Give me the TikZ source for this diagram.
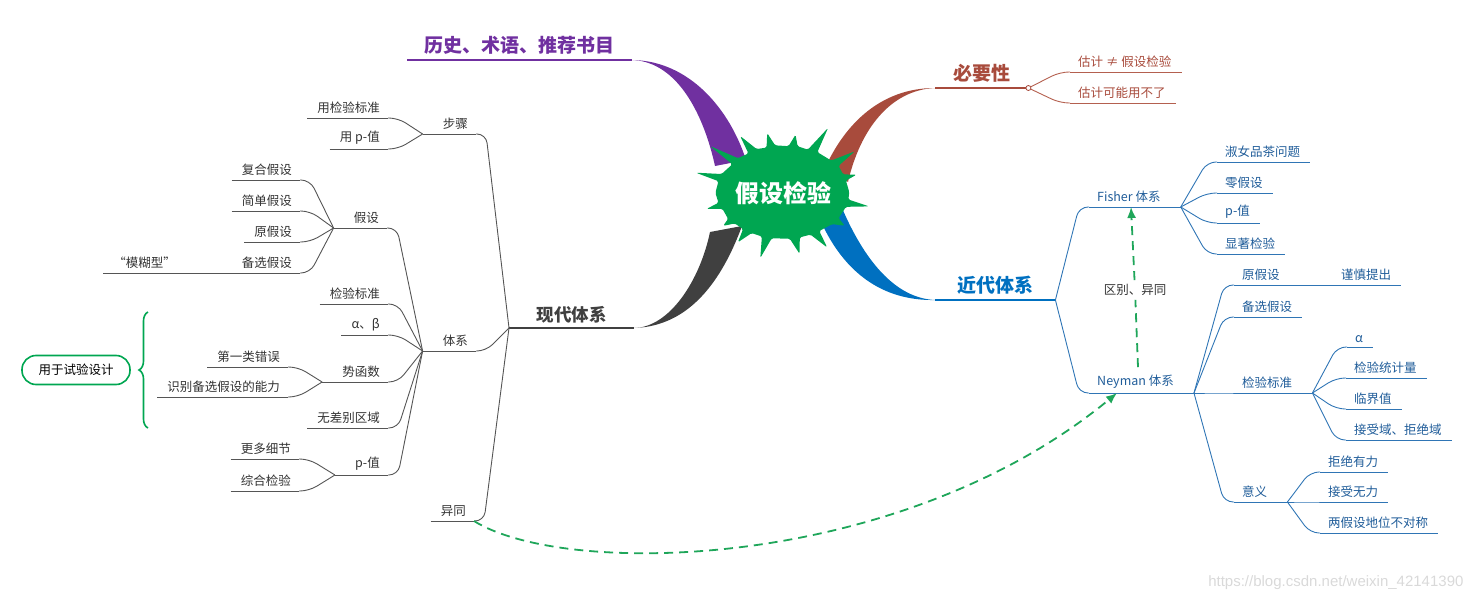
\documentclass[tikz,border=0pt]{standalone}
\usepackage{fontspec}
\setmainfont{Noto Sans CJK SC}
\newfontfamily\wmfont{Liberation Sans}
\usetikzlibrary{positioning}
\usetikzlibrary{arrows.meta}
\usetikzlibrary{decorations.pathreplacing}
\definecolor{ppl}{HTML}{7030A0}
\definecolor{rbr}{HTML}{A84B3C}
\definecolor{rline}{HTML}{B4604F}
\definecolor{bblue}{HTML}{0070C0}
\definecolor{bline}{HTML}{2F75B5}
\definecolor{btxt}{HTML}{1F5C99}
\definecolor{dgray}{HTML}{404040}
\definecolor{lline}{HTML}{555555}
\definecolor{ltxt}{HTML}{333333}
\definecolor{zgreen}{HTML}{00A651}
\definecolor{dgreen}{HTML}{1FA65A}
\tikzset{
tbase/.style={inner xsep=0pt, inner ysep=4pt, font=\fontsize{12.5}{14}\selectfont},
tpad/.style 2 args={execute at begin node={\hspace*{#1}},
  execute at end node={\hspace*{#2}}},
lf/.style={tbase, anchor=south east, text=ltxt, tpad={10pt}{8pt}}, % left leaves
lp/.style={tbase, anchor=south east, text=ltxt, tpad={20pt}{8pt}}, % left parents
rf/.style={tbase, anchor=south west, text=btxt, tpad={8pt}{10pt}}, % right leaves
rp/.style={tbase, anchor=south west, text=btxt, tpad={8pt}{20pt}}, % right parents
main/.style={anchor=south west, inner xsep=0pt, inner ysep=5pt,
  font=\bfseries\fontsize{19}{22}\selectfont},
gl/.style={draw=lline, line width=0.9pt, rounded corners=9pt},
bl/.style={draw=bline, line width=0.9pt, rounded corners=9pt},
rl/.style={draw=rline, line width=0.9pt, rounded corners=9pt},
gd/.style={draw=dgreen, line width=1.8pt, dash pattern=on 9pt off 6pt,
  -{Latex[length=11pt,width=9pt]}}
}

\begin{document}
\begin{tikzpicture}[x=1pt,y=1pt]
\useasboundingbox (0,0) rectangle (1475,-602);

% main branches
\node[main, text=ppl, minimum width=225pt] (ls) at (407,-60) {历史、术语、推荐书目};
\node[main, text=rbr, minimum width=93pt] (by) at (935,-88) {必要性};
\node[main, text=bblue, minimum width=120pt] (jd) at (935,-300) {近代体系};
\node[main, text=dgray, minimum width=125pt, font=\bfseries\fontsize{17.5}{20}\selectfont] (xd) at (509,-328) {现代体系};
\draw[ppl, line width=2.5pt] (ls.south west) -- (ls.south east);
\draw[rbr, line width=2pt] (by.south west) -- (by.south east);
\draw[bblue, line width=2pt] (jd.south west) -- (jd.south east);
\draw[dgray, line width=2pt] (xd.south west) -- (xd.south east);

\fill[ppl] (ls.south east) .. controls (690,-61) and (730,-110) .. (746,-160)
  -- (715,-166) .. controls (705,-120) and (680,-62) .. (ls.south east) -- cycle;
\fill[rbr] (by.south west) .. controls (880,-88) and (845,-125) .. (826,-166)
  -- (848,-182) .. controls (860,-130) and (890,-90) .. (by.south west) -- cycle;
\fill[bblue] (jd.south west) .. controls (890,-298) and (860,-250) .. (842,-208)
  -- (824,-228) .. controls (845,-270) and (880,-301) .. (jd.south west) -- cycle;
\fill[dgray] (xd.south east) .. controls (690,-326) and (722,-280) .. (742,-226)
  -- (710,-232) .. controls (700,-280) and (670,-327) .. (xd.south east) -- cycle;

% splash
\begin{scope}[shift={(783,-192)}, xscale=1.38]
\fill[zgreen, rounded corners=1.5pt] (0:48) \foreach \a/\r in {14/47,18/56,22/47,33/48,38/66,42/47,58/47,
  63/72,67/46,77/47,81/58,85/46,97/47,101/60,105/46,114/47,119/64,123/46,134/47,139/70,143/46,
  158/48,163/66,167/48,181/49,193/48,197/58,201/47,214/48,218/55,222/47,232/47,237/60,
  241/47,251/47,256/68,260/47,276/47,281/63,285/47,295/47,300/64,304/47,318/48,323/56,
  327/48,342/48,347/64,351/48} { -- (\a:\r) } -- cycle;
\end{scope}
\node[font=\bfseries\fontsize{24}{28}\selectfont, text=white] (rt) at (783,-193) {假设检验};

% 必要性
\node[tbase, anchor=south west, text=rbr, tpad={8pt}{10pt}] (b1) at (1070,-72) {估计 ≠ 假设检验};
\node[tbase, anchor=south west, text=rbr, tpad={8pt}{10pt}] (b2) at (1070,-103) {估计可能用不了};
\foreach \n in {b1,b2} {
  \draw[rl] (\n.south west) -- (\n.south east);
  \draw[rl] (\n.south west) -- ++(-10,0) -- (by.south east);
}
\draw[rbr, fill=white, line width=0.8pt] (by.south east) circle (2.5);

% 现代体系
\node[lp] (bz) at (476,-134) {步骤};
\node[lf] (s1) at (388,-118) {用检验标准};
\node[lf] (s2) at (388,-149) {用 p-值};
\node[lp] (tx) at (476,-351) {体系};
\node[lp] (hs) at (387,-228) {假设};
\node[lf] (h1) at (300,-180) {复合假设};
\node[lf] (h2) at (300,-211) {简单假设};
\node[lf] (h3) at (300,-242) {原假设};
\node[lf] (h4) at (300,-273) {备选假设};
\node[lf] (h4a) at (184,-273) {“模糊型”};
\node[lf] (t1) at (388,-304) {检验标准};
\node[lf] (t2) at (388,-335) {α、β};
\node[lp] (t3) at (388,-382) {势函数};
\node[lf] (t3a) at (288,-367) {第一类错误};
\node[lf] (t3b) at (288,-397) {识别备选假设的能力};
\node[lf] (t4) at (388,-428) {无差别区域};
\node[lp] (t5) at (388,-475) {p-值};
\node[lf] (t5a) at (299,-459) {更多细节};
\node[lf] (t5b) at (299,-491) {综合检验};
\node[lf] (yt) at (474,-521) {异同};
\foreach \n in {bz,s1,s2,tx,hs,h1,h2,h3,h4,h4a,t1,t2,t3,t3a,t3b,t4,t5,t5a,t5b,yt}
  \draw[gl] (\n.south west) -- (\n.south east);
\foreach \c/\p in {s1/bz,s2/bz,h1/hs,h2/hs,h3/hs,h4/hs,t3a/t3,t3b/t3,t5a/t5,t5b/t5,
  hs/tx,t1/tx,t2/tx,t3/tx,t4/tx,t5/tx,bz/xd,tx/xd,yt/xd}
  \draw[gl] (\c.south east) -- ++(10,0) -- (\p.south west);
\draw[gl] (h4a.south east) -- (h4.south west);

\node[tbase, draw=zgreen, line width=1.6pt, rounded corners=14pt, inner xsep=6pt,
  minimum width=108pt, minimum height=29pt, text=black] (sy) at (76,-370) {用于试验设计};
\draw[zgreen, line width=1.6pt, decorate, decoration={brace, amplitude=9pt}]
  (148,-428) -- (148,-312);

% 近代体系
\node[rp] (fs) at (1089,-207) {Fisher 体系};
\node[rf] (f1) at (1217,-162) {淑女品茶问题};
\node[rf] (f2) at (1217,-193) {零假设};
\node[rf] (f3) at (1217,-223) {p-值};
\node[rf] (f4) at (1217,-254) {显著检验};
\node[rp] (ny) at (1089,-393) {Neyman 体系};
\node[rp] (n1) at (1234,-285) {原假设};
\node[rf] (n1a) at (1333,-285) {谨慎提出};
\node[rf] (n2) at (1234,-317) {备选假设};
\node[rp] (n3) at (1234,-393) {检验标准};
\node[rf] (n3a) at (1347,-347) {α};
\node[rf] (n3b) at (1346,-378) {检验统计量};
\node[rf] (n3c) at (1346,-409) {临界值};
\node[rf] (n3d) at (1346,-440) {接受域、拒绝域};
\node[rp] (n4) at (1234,-502) {意义};
\node[rf] (n4a) at (1320,-472) {拒绝有力};
\node[rf] (n4b) at (1320,-502) {接受无力};
\node[rf] (n4c) at (1320,-533) {两假设地位不对称};
\foreach \n in {fs,f1,f2,f3,f4,ny,n1,n1a,n2,n3,n3a,n3b,n3c,n3d,n4,n4a,n4b,n4c}
  \draw[bl] (\n.south west) -- (\n.south east);
\foreach \c/\p in {f1/fs,f2/fs,f3/fs,f4/fs,n1/ny,n2/ny,n3/ny,n4/ny,
  n3a/n3,n3b/n3,n3c/n3,n3d/n3,n4a/n4,n4b/n4,n4c/n4,fs/jd,ny/jd}
  \draw[bl] (\c.south west) -- ++(-10,0) -- (\p.south east);
\draw[bl] (n1.south east) -- (n1a.south west);

% green links
\node[tbase, text=ltxt, fill=white, inner xsep=2pt] (qb) at (1135,-290) {区别、异同};
\draw[gd] ([xshift=49pt,yshift=4pt]ny.north west) -- (qb) -- ([xshift=42pt]fs.south west);
\draw[gd] (yt.south east) .. controls (565,-578) and (900,-572) .. ([xshift=28pt]ny.south west);

\node[font=\wmfont\fontsize{15}{16}\selectfont, text=black!15, anchor=east] (wm)
  at (1467,-583) {https://blog.csdn.net/weixin\_42141390};
\end{tikzpicture}
\end{document}
